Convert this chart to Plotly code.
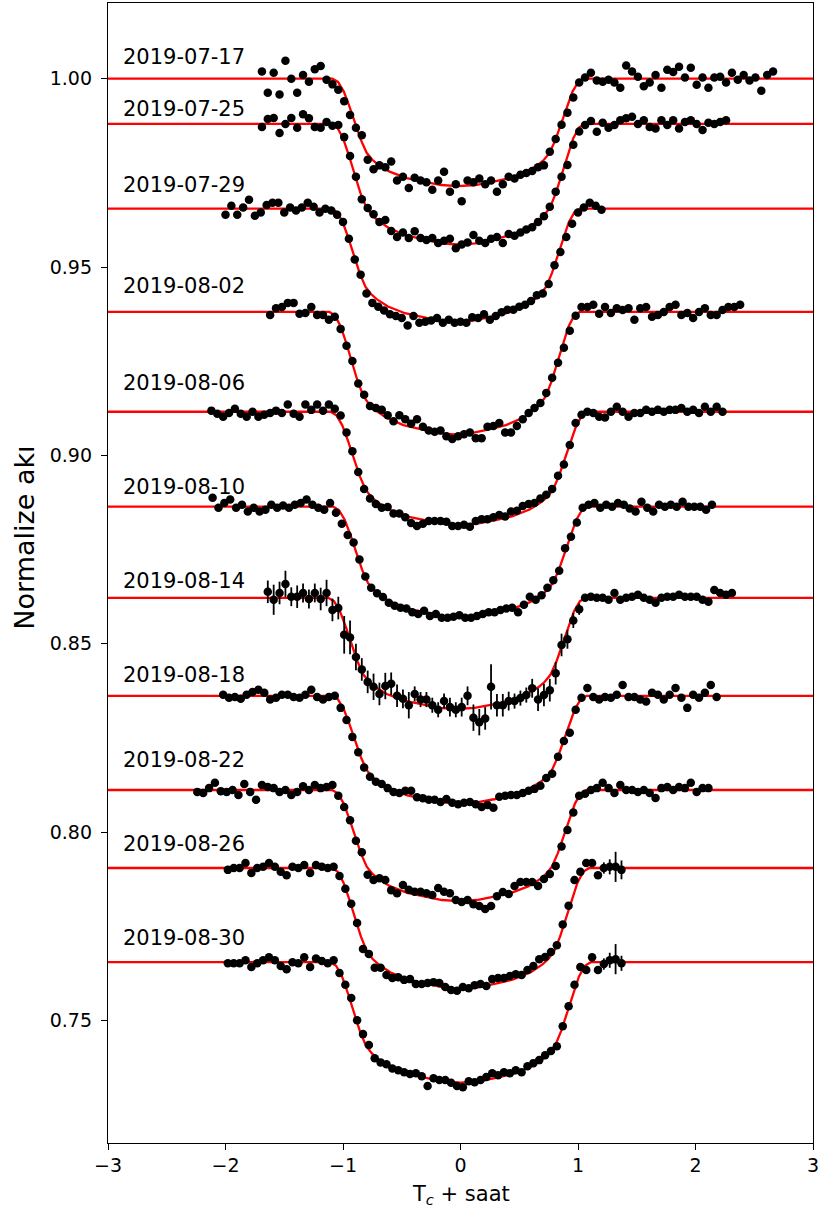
import numpy as np
import plotly.graph_objects as go

# ---------------- data ----------------
DATES = ["2019-07-17", "2019-07-25", "2019-07-29", "2019-08-02", "2019-08-06",
         "2019-08-10", "2019-08-14", "2019-08-18", "2019-08-22", "2019-08-26",
         "2019-08-30"]

# out-of-transit normalized flux of each night (offset light curves)
BASE = [1.0000, 0.9880, 0.9655, 0.9381, 0.9116, 0.8864, 0.8622, 0.8362,
        0.8112, 0.7905, 0.7655]

# model transit depth of each night, parts per thousand
DEPTH_PPT = [28.5, 32.0, 30.0, 32.5, 30.0, 29.3, 29.5, 28.6, 29.5, 32.0, 32.0]

# model mid-transit time and half-depth half-width of each night (hours)
T_MID = [-0.02, -0.02, -0.04, -0.05, -0.01, 0.0, -0.03, -0.01, -0.01, 0.0, 0.0]
HALF_DUR = [0.85, 0.855, 0.84, 0.846, 0.87, 0.86, 0.87, 0.86, 0.86, 0.87, 0.88]

# y position (normalized flux) of each date label
LABEL_Y = [1.0058, 0.9920, 0.9719, 0.9450, 0.9193, 0.8917, 0.8667, 0.8417,
           0.8192, 0.7969, 0.7719]

# first and last observation time of each night (hours from Tc)
T_START = [-1.69, -1.69, -2.00, -1.62, -2.12, -2.11, -1.64, -2.02, -2.24, -1.98, -1.98]
T_END = [2.66, 2.26, 1.20, 2.38, 2.23, 2.14, 2.31, 2.18, 2.11, 1.37, 1.37]

# observed flux relative to each night's baseline, ppt (even cadence)
DEV_0717 = [1.9, -3.7, 1.6, -4.2, 4.8, 0, -3.7, 1.0, -0.8, 2.5,
            3.4, -0.3, -1.5, -2.9, -6, -9.6, -13, -15, -21.5, -24,
            -23, -23.5, -22, -27, -26, -29, -26.3, -27, -27.5, -29.5,
            -27, -24.7, -30, -28, -32.5, -27, -27.5, -26.5, -28, -27,
            -30, -28, -26, -26.5, -25.5, -25, -24.5, -23.5, -23, -19.4,
            -16, -12.2, -9, -5, -1, 0.3, 1.6, -0.5, -0.8, -0.3,
            -1, -2.4, 3.5, 1.9, 0.5, -2, -1, 1, -2.4, 2.4,
            1.8, 3.2, 0.3, 2.9, -1.6, 0.3, -2.4, 0.3, 0.5, -1,
            1.6, -0.3, 1, -0.5, 0.3, -3.2, 1, 1.9]
DEV_0725 = [-0.8, 1.3, 1.6, -2.4, 0, 1.6, -1, 2.6, 1.5, -0.8,
            -1, 0.5, -0.5, -0.3, -3.5, -8.5, -14, -20, -22.3, -24,
            -26, -25.5, -28.4, -30, -28.8, -30.3, -28.5, -30.3, -30.8, -30.3,
            -31.6, -31, -30.5, -33, -32, -31.5, -29.5, -31, -31.6, -30.5,
            -30, -31.6, -29.2, -29.7, -28.8, -28, -27.4, -26, -24.5, -22,
            -18, -14, -10.9, -5.5, -2, -0.3, 0.8, -2.1, 0.3, -1,
            -0.3, 1, 1.5, 1.9, 0, 1, -0.8, -1.2, 1, -0.3,
            1, -1.2, 0.5, 1, 0, -1.6, 0.3, 0, 0.5, 1]
DEV_0729 = [-1.6, 0.8, -1.6, 0.3, 2.4, -1.9, -1, 1, 1.6, 1.6,
            -1, 0.3, -0.5, 0.3, 1.6, 0.5, -1, 0, -0.5, -1.6,
            -3.5, -8, -13.5, -17.5, -22.5, -25, -26, -27, -28, -28.5,
            -29, -31, -28.5, -30.3, -30, -29.7, -29, -30.3, -29.5, -30.3,
            -30, -30.3, -28.8, -29, -28, -29.5, -28.5, -27.5, -26.8, -26.8,
            -26, -25.5, -24.5, -23, -22.5, -20, -15, -11.5, -7.5, -4,
            -1, 0.3, 1.6, 0.8, -0.3]
DEV_0802 = [-0.8, 1, 1.3, 2.4, 2.4, -0.5, -0.3, 1.3, -0.8, -0.8,
            -2.1, -1.3, -4.5, -9, -13, -19, -22, -25, -25.5, -26,
            -27.4, -29, -27.4, -28.5, -29.7, -28.5, -30.5, -31.5, -31.8, -31.5,
            -33, -33.7, -33, -32.5, -32, -33.5, -33.5, -30.5, -30.3, -29.5,
            -32, -32, -30.3, -28.5, -26.8, -25.5, -24.2, -21.5, -17.5, -13.5,
            -9.5, -5, -1, 1.3, 1.3, 1.9, -0.5, 1.3, -0.3, 1,
            0.5, 1, -2.1, 1, 1.3, -1.3, -0.8, 0, 1.3, 1.9,
            -0.8, -0.3, -1.6, 0, 1, -0.8, -0.8, 0.5, 1.3, 1.3,
            1.9]
DEV_0806 = [0.3, -0.5, -1.3, -0.3, 0.8, -0.5, -1.3, 0, -1.3, -0.8,
            -0.3, 0.3, -0.3, 1.9, -0.5, -1.3, 1.9, 0.5, 1.9, 0.3,
            1.9, 0.8, -1, -5.5, -10.5, -16, -20.5, -23, -24.5, -25.5,
            -25.3, -27, -27, -28, -29.5, -30.3, -29.7, -29, -29, -29,
            -29.2, -30.3, -30.3, -30, -30.5, -29, -28.5, -28.5, -28, -27.4,
            -27.8, -26.5, -26.3, -25, -24.5, -24.2, -23, -22, -20.5, -17,
            -14, -8.8, -3, -0.8, 0, -0.3, -1.3, -1.5, 0, 1.3,
            0, -1.3, -0.3, -0.3, 0.5, 0, 0.5, 0, 0.5, 0.5,
            1, 0, 0.5, -0.3, 1.3, 0, 1.3, 0]
DEV_0810 = [2.4, -0.3, 1, 1.9, -0.3, 0.5, -1.3, -0.3, -1.3, -0.8,
            0.5, -0.3, 0.3, -0.3, 0.5, 1, 1.9, 0.5, -0.3, -0.8,
            1, -1.6, -4.5, -7.5, -9.5, -14, -18.5, -21.5, -23, -24,
            -25.5, -26.3, -26.8, -27, -28, -28.5, -27.6, -29, -28.5, -29.5,
            -29.5, -29.2, -28.8, -29.5, -29.5, -29, -28.5, -28, -28, -27.4,
            -27, -26.8, -28, -26, -23.9, -24.7, -23.5, -21.5, -19.5, -17,
            -11, -8, -4.2, -0.3, 0.5, 1, -0.3, 0.5, 0, 1,
            0.5, -0.5, -1.3, 1.3, -0.3, -1.3, 0.5, 0, 0.5, 0,
            1.3, 0, 0, 0, -0.8, 0.5]
DEV_0814 = [1.6, -0.5, 1.3, 3.7, 0.3, 0.3, 1.3, -0.3, 1.3, -0.3,
            1.3, -3.2, -2.7, -9.8, -10.5, -15.7, -19, -22.3, -23.6, -25.5,
            -23.4, -22.8, -26, -26.8, -28.5, -25.5, -27, -27, -28.5, -29.7,
            -27.4, -29, -29.7, -29, -26, -31.8, -33, -32, -23.6, -28.5,
            -28.5, -27.4, -27.4, -26.6, -25.8, -24, -27, -25.8, -24.5, -20,
            -12.5, -11, -6, -3, 0, 0.3, 0, 0, -0.5, 1.3,
            -0.5, 0, 0.3, 0.8, 0, -0.5, -1.3, 0, 0.3, 0.3,
            0.8, 0.3, 0.3, 0.3, -0.5, -1, 2.1, 1.3, 0.8, 1.3]
DEV_0818 = [0.3, -0.5, -0.3, -0.8, 0.3, 1, 1.6, 0.8, -1, -0.5,
            0.3, 0.3, -0.3, -0.5, 0.3, 1.6, -0.3, -1, -0.3, 0,
            -3.2, -6.4, -10.9, -15, -19, -21.5, -22.8, -23.4, -24.5, -25.5,
            -25.8, -25.2, -25.2, -26.9, -27.2, -27.6, -27.6, -28.2, -27.4, -28.4,
            -28.8, -28.4, -28.2, -28.8, -29.5, -29, -29.7, -26.8, -26.5, -26.3,
            -26.3, -25.8, -25.2, -24.7, -23.9, -21.8, -20.7, -16.2, -12, -9.8,
            -3.7, -0.5, 2.1, -0.3, -1, -0.3, -0.5, 0.3, 2.9, -0.3,
            -0.3, -1, -1.5, 0.8, 0.3, -1, 0.3, 2.1, -0.5, -3.2,
            0.3, -0.5, 0.8, 2.9, -0.3]
DEV_0822 = [-0.5, -0.8, 0.5, 1.9, -0.3, -0.5, 0, -1.3, 1.6, -0.5,
            -2.6, 1.3, 0.8, 0.5, -0.5, 0, -1.3, -0.5, 1, 0,
            1.3, 0.5, 0.8, 1.3, -1.5, -4.5, -8, -13.5, -16.5, -22.5,
            -23.9, -23.4, -23.9, -26.6, -27.4, -25.2, -26.5, -27, -27, -27.4,
            -27.9, -26, -27, -27.4, -29.2, -29.7, -29.2, -30.3, -30.8, -31.6,
            -30.8, -28.2, -27.1, -27.6, -25.5, -24.4, -24.4, -24.4, -25.5, -23.6,
            -22.3, -20.2, -15, -10.6, -6, -1.5, -1, 0, 0.5, 1.9,
            0.5, -0.8, 1.3, 0, 0, -0.5, 0, -0.8, -2.1, 0.5,
            0.8, 0, 0.8, 0.5, 1.9, -0.5, 0.5, 0.5]
DEV_0826 = [-0.5, 0, 0, 1.3, -1.3, 0, 0.3, 1.3, 0.3, -1,
            -1.9, 0.3, 0, 0.8, -1.3, 0.8, 0.3, 0, 0.3, -2.1,
            -5.5, -9.5, -14.6, -21.5, -22.8, -26.5, -26.5, -28.4, -29.2, -29,
            -29.7, -29.5, -30.8, -30.8, -30.5, -30.3, -30.5, -31.6, -32.4, -32.6,
            -31.6, -31.9, -31.1, -30.8, -31.3, -29.5, -29.2, -29.2, -28.7, -28.2,
            -28.4, -27.1, -26, -24.2, -23.6, -22.3, -20.5, -15, -10, -3.2,
            -1, 1.3, 1.3, -1.9, 0, 0.3, 0.3, -0.5]
DEV_0830 = [-0.3, -0.3, -0.3, 0.5, -1.3, -0.3, 0.5, 1.3, 0.5, -1,
            -1.9, 0, -0.3, 1.3, -1.3, 1, 0.3, -0.3, 0.5, -2.9,
            -6, -9.5, -15.4, -19.1, -22, -25.5, -26.6, -27.1, -28.2, -28.7,
            -29.2, -29.7, -29.5, -30.3, -32.9, -30.8, -31.3, -31.3, -32, -32.9,
            -33.2, -31.6, -31.9, -31.3, -30.5, -29.5, -30, -29.2, -29.5, -28.7,
            -29.2, -27.6, -26.8, -26, -24.7, -23.6, -22.3, -17, -11.7, -6,
            -1.3, -2.1, 1.3, -2.1, -0.5, 0.5, 0.8, -0.3]

# typical error bar of each night, ppt
ERR_PPT = [0.8, 0.6, 0.6, 0.6, 0.6, 0.6, 0.6, 0.6, 0.6, 0.6, 0.6]
# 2019-08-14 error bars (in-transit part is noisy)
ERR_0814 = [3, 4, 3, 3.5, 2.5, 3, 2.5, 2.5, 2.5, 3,
            3.5, 3, 3, 5, 4.5, 3.5, 3, 3, 3.5, 3,
            3.5, 3, 3, 2.5, 3.5, 2, 2, 2, 2, 2,
            2, 2.5, 2, 2.5, 2.5, 3.5, 3.5, 3, 6, 3,
            3, 2.5, 2, 2, 2, 2.5, 3, 3, 3, 3,
            3, 2.5, 2, 1.5, 0.8, 0.6, 0.6, 0.6, 0.6, 0.6,
            0.6, 0.6, 0.6, 0.6, 0.6, 0.6, 0.6, 0.6, 0.6, 0.6,
            0.6, 0.6, 0.6, 0.6, 0.6, 0.6, 0.6, 0.6, 0.6, 0.6]
# last points of 2019-08-26 and 2019-08-30 have larger errors
ERR_TAIL_0826 = [1.5, 2.0, 4.0, 2.5]
ERR_TAIL_0830 = [1.5, 2.0, 4.0, 2.0]

# transit model (red line): phase nodes (in units of the half-depth half-width)
# and relative depth profile
MODEL_PHASE = [-1.26, -1.203, -1.145, -1.088, -1.031, -0.974, -0.916, -0.859, -0.802,
               -0.687, -0.515, -0.344, -0.172, 0.0, 0.172, 0.344, 0.515, 0.687,
               0.802, 0.859, 0.916, 0.974, 1.031, 1.088, 1.145, 1.203, 1.26]
MODEL_SHAPE = [0, 0.03, 0.12, 0.26, 0.42, 0.57, 0.69, 0.755, 0.80,
               0.865, 0.925, 0.96, 0.99, 1.0, 0.99, 0.96, 0.925, 0.865,
               0.80, 0.755, 0.69, 0.57, 0.42, 0.26, 0.12, 0.03, 0]

X_RANGE = [-3, 3]
X_TICKS = [-3, -2, -1, 0, 1, 2, 3]
Y_TICKS = [0.75, 0.80, 0.85, 0.90, 0.95, 1.00]

# ---------------- figure ----------------
DEVS = [DEV_0717, DEV_0725, DEV_0729, DEV_0802, DEV_0806, DEV_0810,
        DEV_0814, DEV_0818, DEV_0822, DEV_0826, DEV_0830]

FONT = "DejaVu Sans"
fig = go.Figure()

for i in range(len(DATES)):
    mx = [X_RANGE[0]] + list(T_MID[i] + HALF_DUR[i] * np.array(MODEL_PHASE)) + [X_RANGE[1]]
    shape = [0.0] + MODEL_SHAPE + [0.0]
    my = BASE[i] - DEPTH_PPT[i] / 1000.0 * np.array(shape)
    fig.add_trace(go.Scatter(x=mx, y=my, mode="lines",
                             line=dict(color="#ff0000", width=2.3),
                             hoverinfo="skip", showlegend=False))

for i in range(len(DATES)):
    dev = np.array(DEVS[i], dtype=float)
    n = len(dev)
    x = np.linspace(T_START[i], T_END[i], n)
    y = BASE[i] + dev / 1000.0
    err = np.full(n, ERR_PPT[i])
    if DATES[i] == "2019-08-14":
        err = np.array(ERR_0814, dtype=float)[:n]
    elif DATES[i] == "2019-08-26":
        err[-len(ERR_TAIL_0826):] = ERR_TAIL_0826
    elif DATES[i] == "2019-08-30":
        err[-len(ERR_TAIL_0830):] = ERR_TAIL_0830
    fig.add_trace(go.Scatter(
        x=x, y=y, mode="markers",
        marker=dict(color="black", size=8.5, line=dict(width=0)),
        error_y=dict(type="data", array=err / 1000.0, color="black",
                     thickness=1.8, width=0),
        showlegend=False))

for i in range(len(DATES)):
    fig.add_annotation(x=-2.889, y=LABEL_Y[i], xref="x", yref="y",
                       text=DATES[i], showarrow=False, xanchor="left",
                       yanchor="middle", font=dict(family=FONT, size=21, color="black"))

# axis titles
fig.add_annotation(x=0.5, y=-0.0456, xref="paper", yref="paper",
                   text="T<sub><i>c</i></sub> + saat", showarrow=False,
                   xanchor="center", yanchor="middle",
                   font=dict(family=FONT, size=21, color="black"))
fig.add_annotation(x=-0.1177, y=0.531, xref="paper", yref="paper",
                   text="Normalize akı", showarrow=False, textangle=-90,
                   xanchor="center", yanchor="middle",
                   font=dict(family=FONT, size=27, color="black"))

axis_common = dict(showline=True, mirror=True, linecolor="black", linewidth=1.3,
                   ticks="outside", ticklen=6, tickwidth=1.3, tickcolor="black",
                   showgrid=False, zeroline=False,
                   tickfont=dict(family=FONT, size=19, color="black"))

fig.update_xaxes(range=X_RANGE, tickvals=X_TICKS, ticklabelstandoff=-1, **axis_common)
fig.update_yaxes(range=[0.7175, 1.0201], tickvals=Y_TICKS, tickformat=".2f",
                 ticklabelstandoff=5, **axis_common)

fig.update_layout(width=822, height=1212,
                  margin=dict(l=108, r=9, t=3, b=69),
                  paper_bgcolor="white", plot_bgcolor="white",
                  font=dict(family=FONT, color="black"))

fig.write_html("out.html",
               config={"displayModeBar": False},
               post_script="document.body.style.margin='0';"
                           "document.documentElement.style.margin='0';")
